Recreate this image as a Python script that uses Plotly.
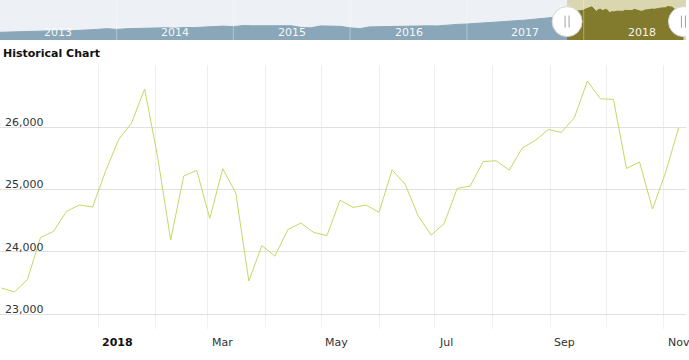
import pandas as pd
import plotly.graph_objects as go

# ---------------- data ----------------
# weekly closes shown in the main chart (Nov 10, 2017 -> Nov 9, 2018)
weekly_dates = pd.date_range("2017-11-10", periods=53, freq="7D")
weekly_values = [
    23422, 23358, 23558, 24231, 24329, 24652, 24754, 24719,
    25296, 25803, 26072, 26616, 25521, 24191, 25219, 25310,
    24538, 25336, 24946, 23533, 24103, 23933, 24360, 24463,
    24311, 24263, 24831, 24715, 24753, 24635, 25317, 25090,
    24581, 24271, 24456, 25019, 25058, 25451, 25463, 25313,
    25669, 25790, 25965, 25917, 26155, 26743, 26458, 26447,
    25340, 25444, 24689, 25271, 25989,
]

# longer history shown in the navigator strip (monthly, Jan 2013 -> Oct 2017)
history_dates = pd.date_range("2013-01-01", "2017-10-01", freq="MS")
history_values = [
    13400, 13550, 13750, 13850, 14050, 13950, 14250, 14100, 14300, 14600, 14900, 15300,
    14900, 15250, 15400, 15450, 15600, 15750, 15500, 15900, 15850, 16150, 16500, 16600,
    16300, 16900, 16750, 16800, 16950, 16700, 16800, 15900, 15700, 16700, 16750, 16500,
    15700, 15300, 16200, 16300, 16350, 16450, 16800, 16800, 16750, 16700, 17200, 17500,
    17700, 18000, 18300, 18500, 18800, 19200, 19700, 20200, 20700, 21200,
]

nav_years = ["2013", "2014", "2015", "2016", "2017", "2018"]

y_tick_vals = [23000, 24000, 25000, 26000, 27000]
y_tick_text = ["23,000", "24,000", "25,000", "26,000", ""]

x_grid_months = pd.date_range("2017-12-01", "2018-11-01", freq="MS")
x_label_dates = ["2018-01-01", "2018-03-01", "2018-05-01", "2018-07-01", "2018-09-01", "2018-11-01"]
x_label_text = ["<b>2018</b>", "Mar", "May", "Jul", "Sep", "Nov"]

title_text = "Historical Chart"

# ---------------- styles / layout geometry ----------------
FONT = "DejaVu Sans"
LINE_COLOR = "#c4d964"
NAV_BG = "#edf1f5"
NAV_AREA = "#8aa6b9"
SEL_BG = "#dad6b0"
SEL_AREA = "#827a2c"

H = 322          # plot-area height in px (figure height 360 - bottom margin)
MAIN_TOP = 65    # px from top where main plot starts
NAV_H = 40       # navigator height in px


def py(px_from_top):
    return (H - px_from_top) / H


fig = go.Figure()

# navigator: unselected history
fig.add_trace(go.Scatter(
    x=list(history_dates) + [weekly_dates[0]],
    y=history_values + [weekly_values[0]],
    xaxis="x2", yaxis="y2", mode="lines", fill="tozeroy",
    fillcolor=NAV_AREA, line=dict(color=NAV_AREA, width=1), hoverinfo="skip",
))
# navigator: selected range
fig.add_trace(go.Scatter(
    x=weekly_dates, y=weekly_values,
    xaxis="x2", yaxis="y2", mode="lines", fill="tozeroy",
    fillcolor=SEL_AREA, line=dict(color=SEL_AREA, width=1), hoverinfo="skip",
))
# main line
fig.add_trace(go.Scatter(
    x=weekly_dates, y=weekly_values, mode="lines",
    line=dict(color=LINE_COLOR, width=1),
))

nav_end = "2018-11-17"

shapes = [
    dict(type="rect", xref="x2 domain", yref="y2 domain", x0=0, x1=1, y0=0, y1=1,
         fillcolor=NAV_BG, line=dict(width=0), layer="below"),
    dict(type="rect", xref="x2", yref="y2 domain", x0=weekly_dates[0], x1=nav_end, y0=0, y1=1,
         fillcolor=SEL_BG, line=dict(width=0), layer="below"),
]
for yr in nav_years[1:]:
    shapes.append(dict(type="line", xref="x2", yref="y2 domain", x0=f"{yr}-01-01", x1=f"{yr}-01-01",
                       y0=0, y1=1, line=dict(color="rgba(255,255,255,0.35)", width=1)))
for d in [weekly_dates[0], weekly_dates[-1]]:
    shapes.append(dict(type="circle", xref="x2", yref="y2 domain", xsizemode="pixel", ysizemode="pixel",
                       xanchor=d, yanchor=0.46, x0=-15, x1=15, y0=-15, y1=15,
                       fillcolor="white", line=dict(color="#d6d6d6", width=1)))
    for off in (-2, 2):
        shapes.append(dict(type="line", xref="x2", yref="y2 domain", xsizemode="pixel", ysizemode="pixel",
                           xanchor=d, yanchor=0.46, x0=off, x1=off, y0=-6, y1=6,
                           line=dict(color="#a0a0a0", width=1)))

annotations = [
    dict(text=f"<b>{title_text}</b>", xref="paper", yref="paper", x=0, y=py(53),
         xanchor="left", yanchor="middle", showarrow=False, xshift=1,
         font=dict(family=FONT, size=11, color="#111111")),
]
for yr in nav_years:
    annotations.append(dict(text=yr, xref="x2", yref="paper", x=f"{yr}-07-02", y=py(32.5),
                            xanchor="center", yanchor="middle", showarrow=False,
                            font=dict(family=FONT, size=11, color="rgba(255,255,255,0.95)")))
for d, t in zip(x_label_dates, x_label_text):
    annotations.append(dict(text=t, xref="x", yref="paper", x=d, y=py(342.5), xanchor="left",
                            yanchor="middle", xshift=2, showarrow=False,
                            font=dict(family=FONT, size=11, color="#111111" if "<b>" in t else "#333333")))

fig.update_layout(
    width=689, height=360,
    margin=dict(l=0, r=3, t=0, b=360 - H),
    paper_bgcolor="white", plot_bgcolor="white",
    showlegend=False,
    font=dict(family=FONT, size=11, color="#333333"),
    xaxis=dict(domain=[0, 1], anchor="y", range=["2017-11-09 06:00", "2018-11-13"],
               tickmode="array", tickvals=list(x_grid_months), ticktext=[""] * len(x_grid_months),
               showgrid=True, gridcolor="#eeeeee", gridwidth=1, ticks="outside", ticklen=6,
               tickcolor="#f1f1f1", showline=False, zeroline=False),
    yaxis=dict(domain=[0, py(MAIN_TOP)], anchor="x", range=[22876, 27000],
               tickmode="array", tickvals=y_tick_vals, ticktext=y_tick_text,
               ticklabelposition="inside", ticklabelshift=-5, ticklabelstandoff=2,
               showgrid=True, gridcolor="#e0e0e0", gridwidth=1,
               showline=False, zeroline=False, ticks="",
               tickfont=dict(family=FONT, size=11, color="#333333")),
    xaxis2=dict(domain=[0, 1], anchor="y2", range=["2013-01-01", nav_end], visible=False),
    yaxis2=dict(domain=[py(NAV_H), 1], anchor="x2", range=[9400, 30150], visible=False),
    shapes=shapes,
    annotations=annotations,
)

fig.write_html(
    "out.html",
    config={"displayModeBar": False},
    post_script="document.body.style.margin='0';document.body.style.overflow='hidden';",
)
